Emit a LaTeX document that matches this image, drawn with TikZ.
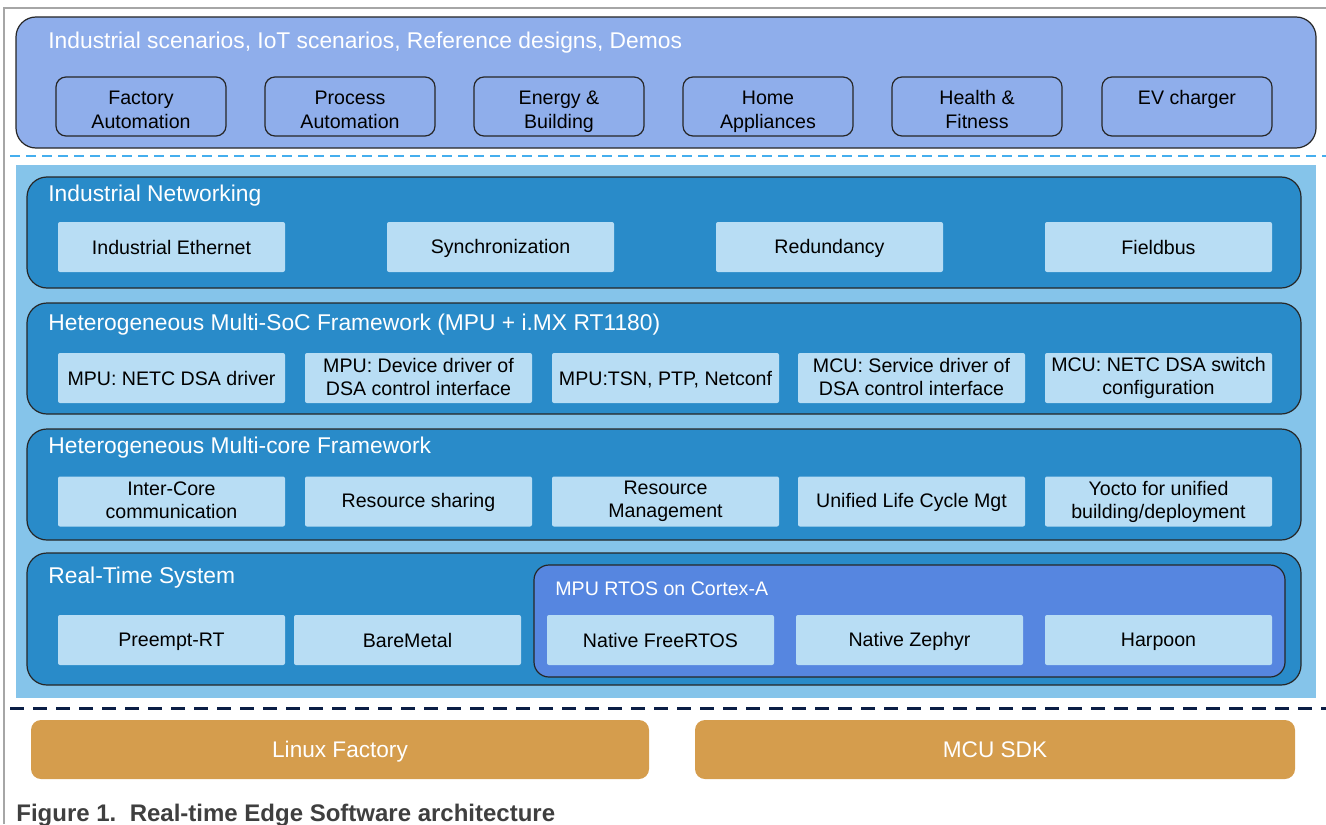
\documentclass[tikz,border=0pt]{standalone}
\usepackage{fontspec}
\setmainfont{Liberation Sans}
\definecolor{scenblue}{HTML}{8FAEEB}
\definecolor{bgblue}{HTML}{85C4EA}
\definecolor{layerblue}{HTML}{298BC9}
\definecolor{itemblue}{HTML}{B8DDF4}
\definecolor{rtosblue}{HTML}{5686E0}
\definecolor{sdkorange}{HTML}{D59D4D}
\definecolor{navy}{HTML}{0B1E45}
\definecolor{dashblue}{HTML}{45AEEE}
\definecolor{framegray}{HTML}{A6A6A6}
\definecolor{captiongray}{HTML}{3F3F3F}
\begin{document}
\begin{tikzpicture}[
x=0.5pt, y=-0.5pt,
scenario/.style={rectangle, draw=black!85, fill=scenblue, semithick, rounded corners=5pt, minimum width=85pt, minimum height=29.5pt, align=center, text height=22pt, text depth=0pt, font=\fontsize{9.8}{12}\selectfont},
layer/.style={rectangle, draw=black!85, fill=layerblue, semithick, rounded corners=10pt, minimum width=637pt, minimum height=55.5pt},
item/.style={rectangle, fill=itemblue, rounded corners=1pt, minimum width=113.5pt, minimum height=25pt, inner sep=1pt, align=center, font=\fontsize{9.8}{11.5}\selectfont, execute at begin node=\rule{0pt}{8.5pt}, execute at end node=\rule[-1.5pt]{0pt}{1.5pt}},
title/.style={anchor=base west, text=white, inner sep=0pt, font=\fontsize{11.4}{13}\selectfont},
sdk/.style={rectangle, fill=sdkorange, rounded corners=5pt, minimum height=29.5pt, text height=9pt, text depth=1pt, text=white, font=\fontsize{11.3}{13}\selectfont},
]
\useasboundingbox (0,0) rectangle (1326,824);
\draw[framegray, thick] (4,824) -- (4,8) -- (1326,8);

\node[scenario, minimum width=650pt, minimum height=65.5pt, rounded corners=10pt] (scen) at (666,82.5) {};
\node[title] (scentitle) at (48,49) {Industrial scenarios, IoT scenarios, Reference designs, Demos};
\node[scenario] (factory) at (141,106.5) {Factory\\Automation};
\node[scenario] (process) at (350,106.5) {Process\\Automation};
\node[scenario] (energy) at (559,106.5) {Energy \&\\Building};
\node[scenario] (home) at (768,106.5) {Home\\Appliances};
\node[scenario] (health) at (977,106.5) {Health \&\\Fitness};
\node[scenario] (ev) at (1187,106.5) {EV charger\\\mbox{}};
\draw[dashblue, line width=1pt, dash pattern=on 5pt off 3pt] (10,156) -- (1326,156);

\node[rectangle, fill=bgblue, inner sep=0pt, minimum width=650pt, minimum height=266.5pt] (bg) at (666,431.5) {};

\node[layer] (net) at (664,232.5) {};
\node[title] (nettitle) at (48,201) {Industrial Networking};
\node[item] (ethernet) at (171.5,247) {Industrial Ethernet};
\node[item] (sync) at (500.5,247) {Synchronization};
\node[item] (redundancy) at (829.5,247) {Redundancy};
\node[item] (fieldbus) at (1158.5,247) {Fieldbus};

\node[layer] (soc) at (664,358.5) {};
\node[title] (soctitle) at (48,330) {Heterogeneous Multi-SoC Framework (MPU + i.MX RT1180)};
\node[item] (dsadriver) at (171.5,378) {MPU: NETC DSA driver};
\node[item] (devdriver) at (418.5,378) {MPU: Device driver of\\DSA control interface};
\node[item] (tsn) at (665.5,378) {MPU:TSN, PTP, Netconf};
\node[item] (servdriver) at (911.5,378) {MCU: Service driver of\\DSA control interface};
\node[item] (switchcfg) at (1158.5,378) {MCU: NETC DSA switch\\configuration};

\node[layer] (core) at (664,484.5) {};
\node[title] (coretitle) at (48,453) {Heterogeneous Multi-core Framework};
\node[item] (intercore) at (171.5,501.5) {Inter-Core\\communication};
\node[item] (sharing) at (418.5,501.5) {Resource sharing};
\node[item] (resmgmt) at (665.5,501.5) {Resource\\Management};
\node[item] (lifecycle) at (911.5,501.5) {Unified Life Cycle Mgt};
\node[item] (yocto) at (1158.5,501.5) {Yocto for unified\\building/deployment};

\node[layer, minimum height=66pt] (rt) at (664,619) {};
\node[title] (rttitle) at (48,583) {Real-Time System};
\node[item] (preempt) at (171.5,640) {Preempt-RT};
\node[item] (baremetal) at (407.5,640) {BareMetal};
\node[layer, fill=rtosblue, rounded corners=7.5pt, minimum width=375.5pt, minimum height=56pt] (rtos) at (909.5,621) {};
\node[title, font=\fontsize{9.8}{12}\selectfont] (rtostitle) at (555,595) {MPU RTOS on Cortex-A};
\node[item] (freertos) at (660.5,640) {Native FreeRTOS};
\node[item] (zephyr) at (909.5,640) {Native Zephyr};
\node[item] (harpoon) at (1158.5,640) {Harpoon};

\draw[navy, line width=1.5pt, dash pattern=on 7pt off 4.5pt] (10,708) -- (1326,708);
\node[sdk, minimum width=309pt] (linux) at (340,749.5) {Linux Factory};
\node[sdk, minimum width=300pt] (mcusdk) at (995,749.5) {MCU SDK};

\node[anchor=base west, inner sep=0pt, text=captiongray, font=\bfseries\fontsize{12}{14}\selectfont] (caption) at (16,821) {Figure 1.\ \ Real-time Edge Software architecture};
\end{tikzpicture}
\end{document}
